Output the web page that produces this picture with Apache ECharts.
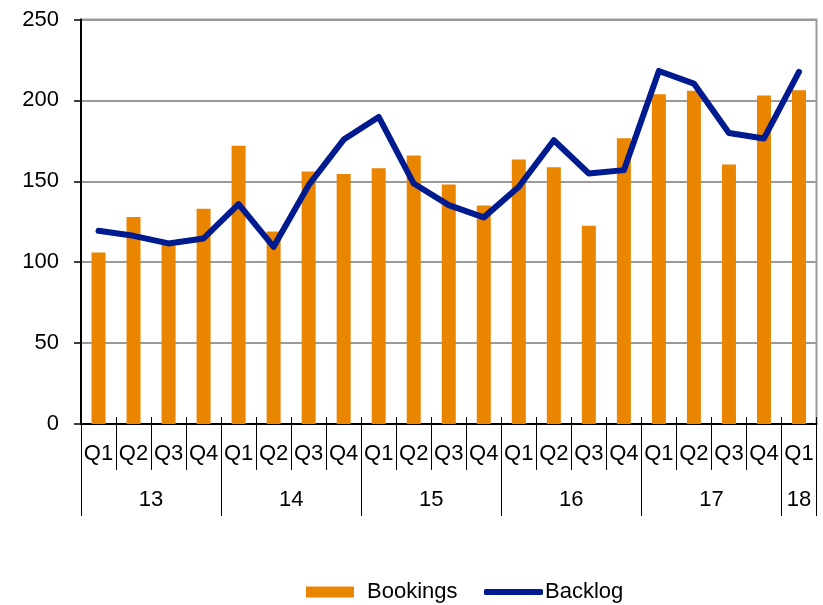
<!DOCTYPE html>
<html>
<head>
<meta charset="utf-8">
<script src="https://cdn.jsdelivr.net/npm/echarts@6/dist/echarts.min.js"></script>
<style>html,body{margin:0;padding:0;background:#fff}#c{width:823px;height:605px}</style>
</head>
<body>
<div id="c"></div>
<script>
var quarters = ['Q1','Q2','Q3','Q4','Q1','Q2','Q3','Q4','Q1','Q2','Q3','Q4','Q1','Q2','Q3','Q4','Q1','Q2','Q3','Q4','Q1'];
var years = ['13','14','15','16','17','18'];
var yearQuarterCounts = [4,4,4,4,4,1];
var bookings = [106,128,112,133,172,119,156,154.5,158,166,148,135,163.5,158.7,122.5,176.6,203.8,205.9,160.4,203,206.3];
var backlog = [119.4,116.3,111.6,114.7,135.9,109.5,147.6,175.8,189.8,148.6,135.3,127.7,146.6,175.4,154.8,156.9,218.2,210.4,179.9,176.5,217.6];
var yTicks = {min:0, max:250, interval:50};

// Half-quarter slots for the year axis (boundaryGap false): 2 slots per quarter + 1
var halfSlots = [], yearBoundary = {};
(function(){
  var n = quarters.length * 2 + 1;
  for (var i = 0; i < n; i++) halfSlots.push('');
  var start = 0;
  yearBoundary[0] = true;
  for (var y = 0; y < years.length; y++) {
    var cnt = yearQuarterCounts[y];
    halfSlots[start*2 + cnt] = years[y];
    start += cnt;
    yearBoundary[start*2] = true;
  }
})();

var FONT = 'Liberation Sans, Arial, sans-serif';
var chart = echarts.init(document.getElementById('c'), null, {renderer:'canvas'});
chart.setOption({
  animation: false,
  textStyle: {fontFamily: FONT},
  grid: {left: 81, right: 6.5, top: 19.5, bottom: 181, show: true, borderColor: '#9a9a9a', borderWidth: 2},
  legend: [
    {left: 306, top: 581, padding: 0, data: [{name: 'Bookings', icon: 'rect'}], itemWidth: 48, itemHeight: 11, itemGap: 0,
     textStyle: {fontSize: 22, color: '#000', fontFamily: FONT, padding: [0,0,0,8]}},
    {left: 484, top: 581, padding: 0, data: [{name: 'Backlog', icon: 'roundRect'}], itemWidth: 59, itemHeight: 6, itemGap: 0,
     textStyle: {fontSize: 22, color: '#000', fontFamily: FONT, padding: [0,0,0,-3]}}
  ],
  xAxis: [
    {type: 'category', data: quarters, position: 'bottom',
     axisLine: {show: true, lineStyle: {color: '#000', width: 2}},
     axisTick: {show: true, length: 46, lineStyle: {color: '#000', width: 1}},
     axisLabel: {color: '#000', fontSize: 22, margin: 19, interval: 0, fontFamily: FONT},
     splitLine: {show: false}},
    {type: 'category', data: quarters, position: 'bottom',
     axisLine: {show: false},
     axisTick: {show: true, inside: true, length: 7, lineStyle: {color: '#000', width: 1}},
     axisLabel: {show: false}},
    {type: 'category', data: halfSlots, position: 'bottom', boundaryGap: false,
     axisLine: {show: false},
     axisTick: {show: true, length: 92, interval: function(i){ return !!yearBoundary[i]; }, lineStyle: {color: '#000', width: 1}},
     axisLabel: {color: '#000', fontSize: 22, margin: 65, interval: function(i, v){ return v !== ''; }, fontFamily: FONT}}
  ],
  yAxis: {type: 'value', min: yTicks.min, max: yTicks.max, interval: yTicks.interval,
    axisLine: {show: true, lineStyle: {color: '#000', width: 2}},
    axisTick: {show: true, length: 7, lineStyle: {color: '#000', width: 1.5}},
    axisLabel: {color: '#000', fontSize: 22, margin: 22, fontFamily: FONT},
    splitLine: {show: true, lineStyle: {color: '#9a9a9a', width: 2}}},
  series: [
    {name: 'Bookings', type: 'bar', data: bookings, barWidth: 14, xAxisIndex: 0,
     itemStyle: {color: '#EA8500'}},
    {name: 'Backlog', type: 'line', data: backlog, xAxisIndex: 0, symbol: 'none', z: 5,
     lineStyle: {color: '#001A8F', width: 6, cap: 'round', join: 'round'},
     itemStyle: {color: '#001A8F'}}
  ]
});
</script>
</body>
</html>
